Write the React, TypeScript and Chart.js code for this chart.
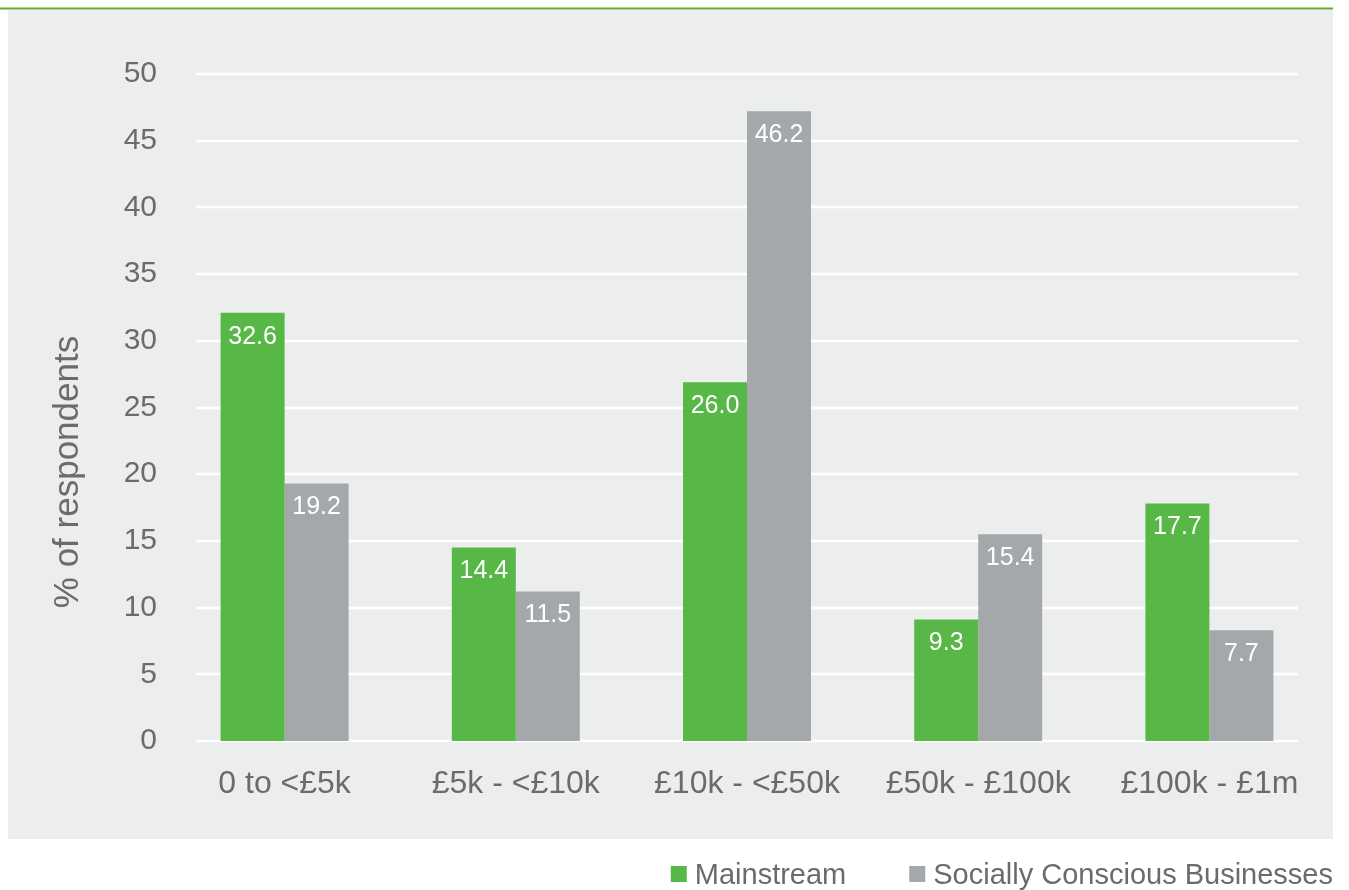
import { useEffect, useRef } from 'react';
import { Chart, registerables } from 'chart.js';

Chart.register(...registerables);

const categories = ['0 to <£5k', '£5k - <£10k', '£10k - <£50k', '£50k - £100k', '£100k - £1m'];
const seriesNames = ['Mainstream', 'Socially Conscious Businesses'];
// bar heights as drawn in the picture
const mainstreamValues = [32.1, 14.5, 26.9, 9.1, 17.8];
const scbValues = [19.3, 11.2, 47.2, 15.5, 8.3];
// value labels as printed on the bars
const mainstreamLabels = ['32.6', '14.4', '26.0', '9.3', '17.7'];
const scbLabels = ['19.2', '11.5', '46.2', '15.4', '7.7'];
const yAxisTitle = '% of respondents';
const yMin = 0;
const yMax = 50;
const yStep = 5;

const FONT = '"Liberation Sans", Arial, Helvetica, sans-serif';
const TEXT_COLOR = '#6a6b6e';
const GREEN = '#57b847';
const GREY = '#a5a8aa';
const PANEL = '#eceeed';

export default function App() {
  const canvasRef = useRef<HTMLCanvasElement | null>(null);

  useEffect(() => {
    const canvas = canvasRef.current;
    if (!canvas) return;

    const backgroundPlugin = {
      id: 'bgPanel',
      beforeDraw(chart: any) {
        const { ctx, width, height } = chart;
        ctx.save();
        ctx.fillStyle = '#ffffff';
        ctx.fillRect(0, 0, width, height);
        ctx.fillStyle = PANEL;
        ctx.fillRect(8, 10, 1325, 829);
        ctx.strokeStyle = '#66ad22';
        ctx.lineWidth = 2;
        ctx.beginPath();
        ctx.moveTo(0, 8.5);
        ctx.lineTo(1333, 8.5);
        ctx.stroke();
        ctx.restore();
      },
    };

    const gridPlugin = {
      id: 'insetGrid',
      beforeDatasetsDraw(chart: any) {
        const { ctx, chartArea, scales } = chart;
        const y = scales.y;
        ctx.save();
        ctx.strokeStyle = '#ffffff';
        ctx.lineWidth = 2.5;
        y.ticks.forEach((t: any) => {
          const py = Math.round(y.getPixelForValue(t.value));
          ctx.beginPath();
          ctx.moveTo(chartArea.left + 27, py);
          ctx.lineTo(chartArea.right - 27, py);
          ctx.stroke();
        });
        ctx.restore();
      },
    };

    const labelPlugin = {
      id: 'barLabels',
      afterDatasetsDraw(chart: any) {
        const { ctx } = chart;
        ctx.save();
        ctx.fillStyle = '#ffffff';
        ctx.font = `25px ${FONT}`;
        ctx.textAlign = 'center';
        ctx.textBaseline = 'middle';
        chart.data.datasets.forEach((ds: any, di: number) => {
          const meta = chart.getDatasetMeta(di);
          meta.data.forEach((el: any, i: number) => {
            ctx.fillText(ds.valueLabels[i], el.x, el.y + 24);
          });
        });
        ctx.restore();
      },
    };

    const titleLegendPlugin = {
      id: 'titleLegend',
      afterDraw(chart: any) {
        const { ctx } = chart;
        ctx.save();
        // y axis title
        ctx.fillStyle = TEXT_COLOR;
        ctx.font = `35px ${FONT}`;
        ctx.textAlign = 'center';
        ctx.textBaseline = 'middle';
        ctx.translate(68, 472);
        ctx.rotate(-Math.PI / 2);
        ctx.fillText(yAxisTitle, 0, 0);
        ctx.restore();

        // legend, right aligned
        ctx.save();
        ctx.font = `29px ${FONT}`;
        ctx.textBaseline = 'alphabetic';
        ctx.textAlign = 'left';
        const box = 16;
        const gap = 8;
        const spacing = 63;
        const items = chart.data.datasets.map((ds: any) => ({
          text: ds.label,
          color: ds.backgroundColor,
          w: ctx.measureText(ds.label).width,
        }));
        let total = 0;
        items.forEach((it: any, i: number) => {
          total += box + gap + it.w + (i < items.length - 1 ? spacing : 0);
        });
        let x = 1333 - total;
        items.forEach((it: any) => {
          ctx.fillStyle = it.color;
          ctx.fillRect(x, 866, box, box);
          ctx.fillStyle = TEXT_COLOR;
          ctx.fillText(it.text, x + box + gap, 884);
          x += box + gap + it.w + spacing;
        });
        ctx.restore();
      },
    };

    const chart = new Chart(canvas, {
      type: 'bar',
      data: {
        labels: categories,
        datasets: [
          {
            label: seriesNames[0],
            data: mainstreamValues,
            backgroundColor: GREEN,
            valueLabels: mainstreamLabels,
            barPercentage: 1,
            categoryPercentage: 0.5535,
          } as any,
          {
            label: seriesNames[1],
            data: scbValues,
            backgroundColor: GREY,
            valueLabels: scbLabels,
            barPercentage: 1,
            categoryPercentage: 0.5535,
          } as any,
        ],
      },
      options: {
        animation: false,
        responsive: false,
        devicePixelRatio: 1,
        layout: { padding: { top: 74, right: 24, left: 0, bottom: 0 } },
        plugins: {
          legend: { display: false },
          tooltip: { enabled: false },
        },
        scales: {
          x: {
            grid: { display: false, drawTicks: false },
            border: { display: false },
            ticks: {
              color: TEXT_COLOR,
              font: { family: FONT, size: 32 },
              padding: 24,
              maxRotation: 0,
              autoSkip: false,
            },
            afterFit: (scale: any) => {
              scale.height = 149;
            },
          },
          y: {
            min: yMin,
            max: yMax,
            grid: { display: false, drawTicks: false },
            border: { display: false },
            ticks: {
              stepSize: yStep,
              color: TEXT_COLOR,
              font: { family: FONT, size: 30 },
              padding: 12,
            },
            afterFit: (scale: any) => {
              scale.width = 169;
            },
          },
        },
      },
      plugins: [backgroundPlugin, gridPlugin, labelPlugin, titleLegendPlugin],
    });

    return () => {
      chart.destroy();
    };
  }, []);

  return (
    <canvas
      ref={canvasRef}
      width={1349}
      height={890}
      style={{ position: 'fixed', left: 0, top: 0, width: 1349, height: 890, display: 'block' }}
    />
  );
}
